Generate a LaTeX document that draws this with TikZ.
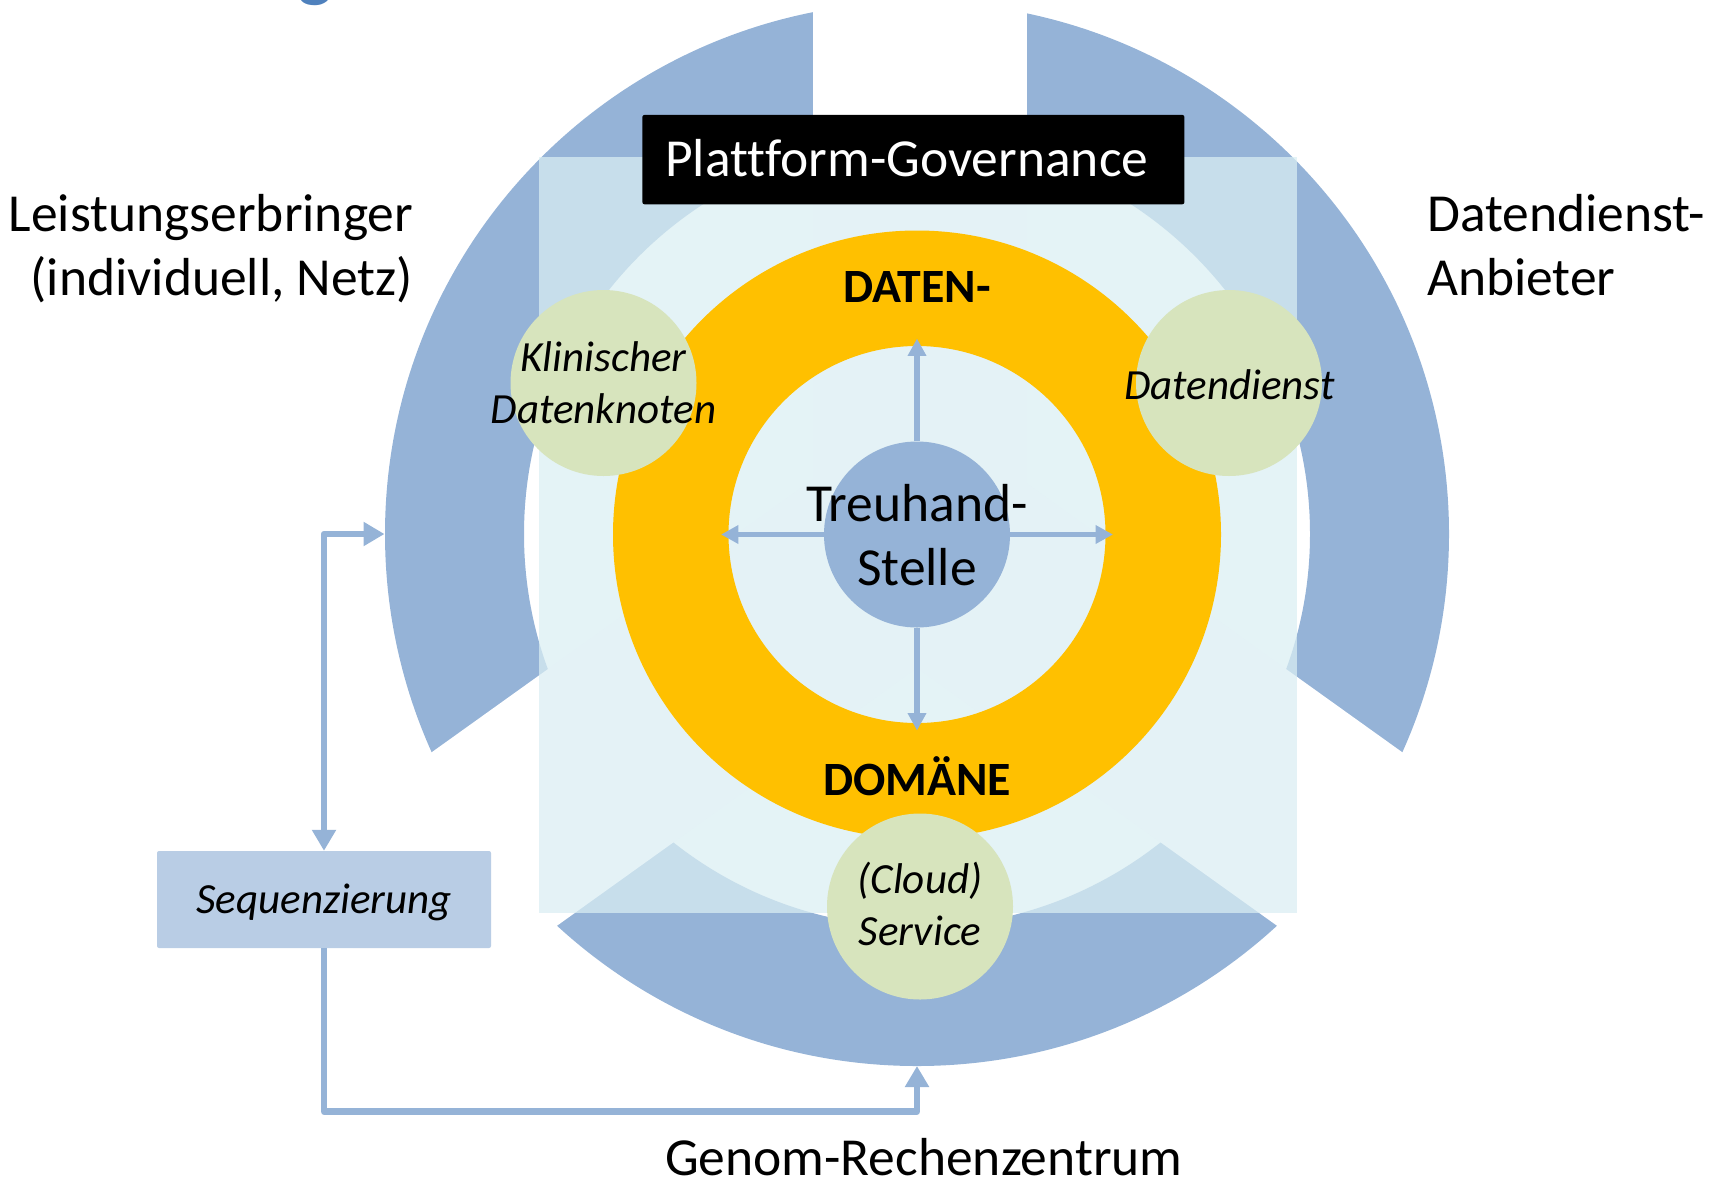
\documentclass[tikz,border=0pt]{standalone}
\usepackage{fontspec}
\setmainfont{Carlito}[Ligatures=NoCommon]
\usetikzlibrary{arrows.meta}
\definecolor{ringblue}{HTML}{95B3D7}
\definecolor{sqpale}{HTML}{DAEEF3}
\definecolor{ringorange}{HTML}{FFC000}
\definecolor{nodegreen}{HTML}{D7E4BD}
\definecolor{seqblue}{HTML}{B9CDE5}
\definecolor{titleblue}{HTML}{4F81BD}
\newcommand\mybig{\fontsize{53.5}{64}\selectfont}
\newcommand\mylab{\fontsize{43}{51.6}\selectfont\itshape}
\newcommand\mydom{\fontsize{47.8}{56}\selectfont\bfseries}
\begin{document}
\begin{tikzpicture}[x=1pt,y=-1pt,
  disc/.style={circle, inner sep=0pt, minimum size=186pt},
  greendisc/.style={disc, fill=nodegreen},
  bluedisc/.style={disc, fill=ringblue},
  bigtext/.style={font=\mybig, inner sep=0pt},
  labtext/.style={font=\mylab, inner sep=0pt, align=center},
  domtext/.style={font=\mydom, inner sep=0pt},
  link/.style={draw=ringblue, line width=6.5pt, line join=round},
  ctrlink/.style={draw=ringblue, line width=5.7pt},
  bigtip/.tip={Triangle[width=23pt,length=21pt]},
  smalltip/.tip={Triangle[width=17.7pt,length=17.4pt]}]
\useasboundingbox (0,0) rectangle (1710,1179);
% title fragment
\node[font=\fontsize{72}{80}\selectfont\bfseries, text=titleblue, inner sep=0pt, anchor=base] (ttl) at (315.5,-6.5) {g};
% outer ring with gaps
\fill[ringblue, even odd rule] (917,534) circle (532) (917,534) circle (393);
\fill[white] (813,545) rectangle (1027,-20);
\fill[white] (855.9,448.6) -- (980.4,622.6) -- (411.3,1030) -- (286.8,856) -- cycle;
\fill[white] (978.1,448.6) -- (853.6,622.6) -- (1422.7,1030) -- (1547.2,856) -- cycle;
% translucent square
\fill[sqpale, fill opacity=0.73] (539,157) rectangle (1296.5,913);
% data domain ring
\fill[ringorange, even odd rule] (917,534.5) circle (304) (917,534.5) circle (188.5);
% trust centre
\node[bluedisc] (tc) at (917,534.5) {};
\coordinate (tipN) at (917,338.5);
\coordinate (tipS) at (917,730.5);
\coordinate (tipW) at (721,534.5);
\coordinate (tipE) at (1113,534.5);
\draw[ctrlink, -smalltip] (tc) -- (tipN);
\draw[ctrlink, -smalltip] (tc) -- (tipS);
\draw[ctrlink, -smalltip] (tc) -- (tipW);
\draw[ctrlink, -smalltip] (tc) -- (tipE);
\node[bigtext, align=center, anchor=base] (tct) at (917,585) {Treuhand-\\Stelle};
% green nodes
\node[greendisc] (kd) at (603.5,383) {};
\node[greendisc] (dd) at (1229,383) {};
\node[greendisc] (cs) at (920,906.5) {};
\node[labtext, anchor=base] (kdt) at (603.5,423.3) {Klinischer\\Datenknoten};
\node[labtext, anchor=base] (ddt) at (1229.4,399) {Datendienst};
\node[labtext, anchor=base] (cst) at (920,945) {(Cloud)\\Service};
% domain labels
\node[domtext, anchor=base] (dat) at (917,302) {DATEN-};
\node[domtext, anchor=base] (dom) at (917,795.3) {DOMÄNE};
% governance box
\node[fill=black, rounded corners=2pt, minimum width=542pt, minimum height=89.3pt, inner sep=0pt] (gov) at (913.4,159.6) {};
\node[bigtext, text=white, anchor=base west] (govt) at (665,176.7) {Plattform-Governance};
% sequencing
\node[fill=seqblue, rounded corners=2pt, minimum width=334pt, minimum height=97pt, inner sep=0pt,
      font=\mylab, text height=30pt, text depth=2pt] (seq) at (324,899.5) {Sequenzierung};
\coordinate (ringW) at (384.5,534);
\coordinate (ringS) at (917,1066);
\coordinate (botR) at (917,1111.5);
\draw[link, bigtip-bigtip] (seq.north) |- (ringW);
\draw[link, -bigtip] (seq.south) |- (botR) -- (ringS);
% outer labels
\node[bigtext, align=right, anchor=base east] (leis) at (413.3,295) {Leistungserbringer\\(individuell, Netz)};
\node[bigtext, align=left, anchor=base west] (dda) at (1427,295) {Datendienst-\\Anbieter};
\node[bigtext, anchor=base] (gen) at (923.8,1175) {Genom-Rechenzentrum};
\end{tikzpicture}
\end{document}
